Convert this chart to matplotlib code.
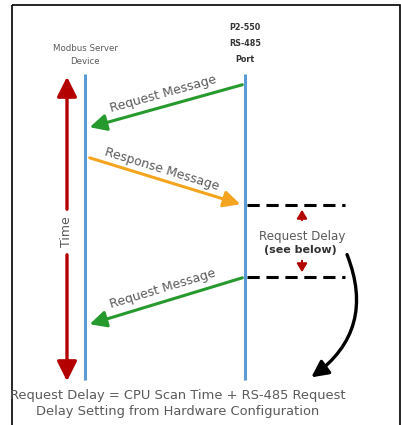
import numpy as np
import matplotlib.pyplot as plt
from matplotlib.patches import FancyArrowPatch, Rectangle

# lanes (x in pixels) and their labels
lane_x = [85, 245]
lane_top, lane_bottom = 74, 380
lane_labels = ["Modbus Server\nDevice", "P2-550\nRS-485\nPort"]
lane_label_y = [55, 43]

# messages: start / end points, text, colour
msg_start_x = [245, 87, 245]
msg_start_y = [84, 157, 277]
msg_end_x = [87, 243, 87]
msg_end_y = [128, 205, 325]
msg_text = ["Request Message", "Response Message", "Request Message"]
msg_color = ["#279a2e", "#f5a41f", "#279a2e"]

delay_y = [205, 277]
footer = "Request Delay = CPU Scan Time + RS-485 Request\nDelay Setting from Hardware Configuration"

fig = plt.figure(figsize=(4.02, 4.25), dpi=100)
ax = fig.add_axes([0, 0, 1, 1])
ax.set_xlim(0, 402)
ax.set_ylim(425, 0)
ax.axis("off")

ax.add_patch(Rectangle((12, 5), 388, 425, fill=False, lw=1.2, ec="black"))

txt = "#5a5a5a"
ax.plot([lane_x[0]] * 2, [lane_top, lane_bottom], color="#5b9bd5", lw=2.2, solid_capstyle="butt")
ax.plot([lane_x[1]] * 2, [lane_top, lane_bottom], color="#5b9bd5", lw=2.2, solid_capstyle="butt")
ax.text(lane_x[0], lane_label_y[0], lane_labels[0], ha="center", va="center", fontsize=6.2,
        color=txt, linespacing=1.5)
ax.text(lane_x[1], lane_label_y[1], lane_labels[1], ha="center", va="center", fontsize=5.8,
        color="#333333", fontweight="bold", linespacing=2.0)

# time arrow
ax.add_patch(FancyArrowPatch((67, 212), (67, 74), arrowstyle="-|>,head_length=12,head_width=6",
                             color="#b30000", lw=2.4, mutation_scale=1))
ax.add_patch(FancyArrowPatch((67, 252), (67, 384), arrowstyle="-|>,head_length=12,head_width=6",
                             color="#b30000", lw=2.4, mutation_scale=1))
ax.text(67, 232, "Time", rotation=90, ha="center", va="center", fontsize=9, color=txt)

for x0, y0, x1, y1, t, c in zip(msg_start_x, msg_start_y, msg_end_x, msg_end_y, msg_text, msg_color):
    ax.add_patch(FancyArrowPatch((x0, y0), (x1, y1), arrowstyle="-|>,head_length=10,head_width=5",
                                 color=c, lw=2.2, mutation_scale=1))
    ang = np.degrees(np.arctan2(y1 - y0, x1 - x0))
    rot = -ang if abs(ang) < 90 else 180 - ang
    mx, my = (x0 + x1) / 2, (y0 + y1) / 2
    ax.text(mx - 3, my - 12, t, rotation=rot, rotation_mode="anchor", ha="center", va="center",
            fontsize=9, color=txt)

for y in delay_y:
    ax.plot([247, 345], [y, y], color="black", lw=2.2, ls=(0, (4, 2.2)))

ax.add_patch(FancyArrowPatch((302, 223), (302, 207), arrowstyle="-|>,head_length=5,head_width=3",
                             color="#b30000", lw=1.5, mutation_scale=1))
ax.add_patch(FancyArrowPatch((302, 258), (302, 275), arrowstyle="-|>,head_length=5,head_width=3",
                             color="#b30000", lw=1.5, mutation_scale=1))
ax.text(302, 236, "Request Delay", ha="center", va="center", fontsize=8.6, color=txt)
ax.text(300, 250, "(see below)", ha="center", va="center", fontsize=8, color="#333333",
        fontweight="bold")

ax.add_patch(FancyArrowPatch((346, 252), (309, 379), connectionstyle="arc3,rad=-0.4",
                             arrowstyle="-|>,head_length=10,head_width=5",
                             color="black", lw=2.4, mutation_scale=1))

ax.text(178, 403, footer, ha="center", va="center", fontsize=9.4, color=txt, linespacing=1.3)

fig.savefig("out.png", dpi=100)
